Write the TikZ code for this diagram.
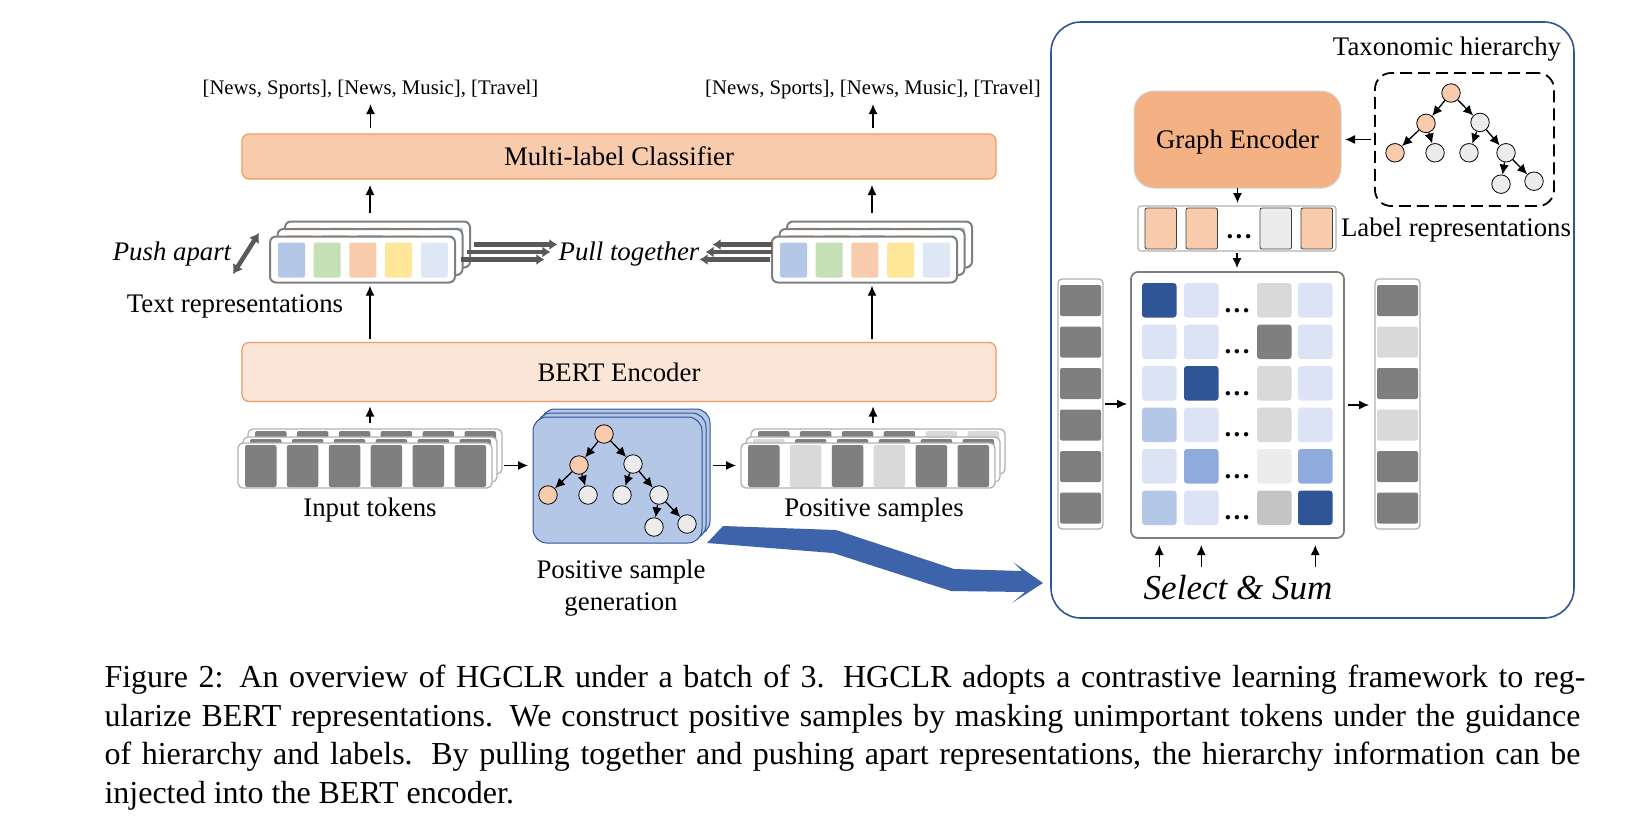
\documentclass[tikz,border=0pt]{standalone}
\usepackage{fontspec}
\setmainfont{Liberation Serif}
\usepackage{tikz}
\usetikzlibrary{arrows.meta, positioning, fit, calc}

\definecolor{cellBlue}{HTML}{B4C7E7}
\definecolor{cellGreen}{HTML}{C5E0B4}
\definecolor{cellPeach}{HTML}{F8CBAD}
\definecolor{cellYellow}{HTML}{FFE699}
\definecolor{cellSky}{HTML}{DEE8F4}
\definecolor{cellCyan}{HTML}{D9FBFB}
\definecolor{cellDark}{HTML}{7F7F7F}
\definecolor{cellLight}{HTML}{D9D9D9}
\definecolor{cellPale}{HTML}{ECECEC}
\definecolor{cellMid}{HTML}{C4C4C4}
\definecolor{matNavy}{HTML}{2F5597}
\definecolor{matBlue}{HTML}{8FAADC}
\definecolor{matPale}{HTML}{DCE3F4}
\definecolor{edgeOrange}{HTML}{F09A5E}
\definecolor{graphFill}{HTML}{F4B183}
\definecolor{bertFill}{HTML}{FBE5D6}
\definecolor{bigBlue}{HTML}{3D63AB}

\newcommand{\wideDots}{\bfseries.\kern2.4pt.\kern2.4pt.}

\begin{document}
\begin{tikzpicture}[
        x=1pt, y=-1pt,
        >=Latex,
        font=\fontsize{26.8}{30}\selectfont,
        % styles
        baseBox/.style={rectangle, anchor=north west, inner sep=0pt, outer sep=0pt},
        % component styles
        stageBox/.style={baseBox, draw=edgeOrange, line width=1.2pt, rounded corners=7pt, minimum width=754pt, align=center},
        repBox/.style={baseBox, draw=cellDark, fill=white, line width=2pt, rounded corners=6pt, minimum width=185pt, minimum height=46pt},
        repCell/.style={baseBox, rounded corners=2pt, minimum width=27pt, minimum height=35pt},
        tokenBox/.style={baseBox, draw=black!30, fill=white, line width=1.3pt, rounded corners=5pt, minimum width=254pt, minimum height=45pt},
        tokenCell/.style={baseBox, rounded corners=2pt, minimum width=31.5pt, minimum height=42pt},
        genBox/.style={baseBox, draw=matNavy, fill=cellBlue, line width=1pt, rounded corners=14pt, minimum width=169pt, minimum height=126pt},
        labelCell/.style={baseBox, draw=black!75, line width=.8pt, rounded corners=2pt, minimum width=31.5pt, minimum height=41pt},
        matCell/.style={baseBox, rounded corners=3pt, minimum width=34.5pt, minimum height=34.5pt},
        vecBox/.style={baseBox, draw=black!30, fill=white, line width=1.3pt, rounded corners=4pt, minimum width=45pt, minimum height=250pt},
        vecCell/.style={baseBox, rounded corners=2pt, minimum width=41pt, minimum height=31pt},
        treeNode/.style={circle, draw=black, line width=.8pt, minimum size=18.5pt, inner sep=0pt},
        % label styles
        textLbl/.style={anchor=base, inner sep=0pt, align=center},
        dotsLbl/.style={anchor=base, inner sep=0pt},
        % connection styles
        conn/.style={->, line width=1.2pt, draw=black, >={Latex[length=10pt, width=9pt]}},
        treeConn/.style={->, line width=1.3pt, draw=black, >={Latex[length=10pt, width=9.5pt]}},
        pullConn/.style={->, line width=4.5pt, draw=black!65, >={Latex[length=8pt, width=11pt]}},
        % the tree in the sample generation and in the taxonomic hierarchy
        treePic/.pic={
            \node [treeNode, fill=cellPeach] (root) at (0,0) {};
            \node [treeNode, fill=cellPeach] (left) at (-25,31) {};
            \node [treeNode, fill=cellPale] (right) at (29,30) {};
            \node [treeNode, fill=cellPeach] (leftA) at (-56,61) {};
            \node [treeNode, fill=cellPale] (leftB) at (-16,61) {};
            \node [treeNode, fill=cellPale] (rightA) at (18,61) {};
            \node [treeNode, fill=cellPale] (rightB) at (55,61) {};
            \node [treeNode, fill=cellPale] (lowA) at (50,93) {};
            \node [treeNode, fill=cellPale] (lowB) at (83,90) {};
            \foreach \treeFrom/\treeTo in {root/left, root/right, left/leftA, left/leftB, right/rightA, right/rightB, rightB/lowA, rightB/lowB}
                \draw [treeConn] (\treeFrom) -- (\treeTo);
        }
    ]

    \useasboundingbox (0,0) rectangle (1637,831);

    % nodes

    % top row: predicted labels
    \node [textLbl, font=\fontsize{20.75}{24}\selectfont] (labelsL) at (370.5,94.5) {[News, Sports], [News, Music], [Travel]};
    \node [textLbl, font=\fontsize{20.75}{24}\selectfont] (labelsR) at (873,94.5) {[News, Sports], [News, Music], [Travel]};

    % encoder and classifier
    \node [stageBox, fill=cellPeach, minimum height=45pt] (classifier) at (242,134) {Multi-label Classifier};
    \node [stageBox, fill=bertFill, minimum height=59pt] (bert) at (242,342.5) {\raisebox{-9pt}[0pt][0pt]{BERT Encoder}};

    % text representations, back layer first
    \foreach \stackX/\stackName in {270/repL, 772/repR} {
        \foreach \layerShift/\layerName/\layerColors in {
                15/c/{cellPeach,cellGreen,cellPeach,cellYellow,cellBlue},
                7.5/b/{cellPeach,cellGreen,cellBlue,cellYellow,cellCyan},
                0/a/{cellBlue,cellGreen,cellPeach,cellYellow,cellSky}} {
            \node [repBox] (\stackName\layerName) at (\stackX+\layerShift, 236.5-\layerShift) {};
            \foreach \cellColor [count=\i from 0] in \layerColors
                \node [repCell, fill=\cellColor] (\stackName\layerName\i) at (\stackX+8+\layerShift+\i*35.7, 242.5-\layerShift) {};
        }
        \node [fit=(\stackName a) (\stackName c), inner sep=0pt] (\stackName Stack) {};
    }

    \node [textLbl, font=\fontsize{26.8}{30}\itshape] (pushLbl) at (172,260) {Push apart};
    \coordinate (pushLow) at (233,274);
    \coordinate (pushHigh) at (259,233);
    \node [textLbl, font=\fontsize{26.8}{30}\itshape] (pullLbl) at (629,260) {Pull together};
    \node [textLbl] (textLbl) at (235,312) {Text representations};

    % input tokens and positive samples, back layer first
    \foreach \stackX/\stackName/\backColors/\midColors/\frontColors in {
            238/tokens/{cellDark,cellDark,cellDark,cellDark,cellDark,cellDark}/{cellDark,cellDark,cellDark,cellDark,cellDark,cellDark}/{cellDark,cellDark,cellDark,cellDark,cellDark,cellDark},
            741/samples/{cellDark,cellDark,cellDark,cellDark,cellLight,cellLight}/{cellLight,cellDark,cellDark,cellDark,cellDark,cellDark}/{cellDark,cellLight,cellDark,cellLight,cellDark,cellDark}} {
        \foreach \layerX/\layerY/\layerName/\layerColors in {10/14/c/\backColors, 5/6/b/\midColors, 0/0/a/\frontColors} {
            \node [tokenBox] (\stackName\layerName) at (\stackX+\layerX, 443-\layerY) {};
            \foreach \cellColor [count=\i from 0, expand list] in \layerColors
                \node [tokenCell, fill=\cellColor] (\stackName\layerName\i) at (\stackX+7+\layerX+\i*41.9, 445-\layerY) {};
        }
        \node [fit=(\stackName a) (\stackName c), inner sep=0pt] (\stackName Stack) {};
    }
    \node [textLbl] (tokensLbl) at (370,516) {Input tokens};
    \node [textLbl] (samplesLbl) at (874,516) {Positive samples};

    % positive sample generation
    \node [genBox] (genC) at (541,409) {};
    \node [genBox] (genB) at (537,413) {};
    \node [genBox] (genA) at (533,417) {};
    \node [fit=(genA) (genC), inner sep=0pt] (genStack) {};
    \pic (genTree) at (604,434) {treePic};
    \node [textLbl, font=\fontsize{26.8}{31.5}\selectfont, anchor=north] (genLbl) at (621,560) {Positive sample\\generation};

    % right panel
    \node [baseBox, draw=matNavy, line width=1.6pt, rounded corners=30pt, minimum width=523pt, minimum height=596pt] (panel) at (1051,22) {};
    \node [textLbl] (taxLbl) at (1447,55) {Taxonomic hierarchy};
    \node [baseBox, draw=black, line width=1.8pt, dash pattern=on 12pt off 6pt, rounded corners=16pt, minimum width=179pt, minimum height=133pt] (taxBox) at (1375,73) {};
    \pic [yscale=.98] (taxTree) at (1451,93) {treePic};
    \node [baseBox, draw=black!18, fill=graphFill, line width=1pt, rounded corners=20pt, minimum width=207pt, minimum height=97pt, align=center] (graph) at (1134,91) {\raisebox{-8.5pt}[0pt][0pt]{Graph Encoder}};

    % label representations
    \node [baseBox, draw=black!30, fill=white, line width=1.2pt, rounded corners=3pt, minimum width=198pt, minimum height=45pt] (labelBox) at (1138,206) {};
    \foreach \cellX/\cellName/\cellColor in {1145/a/cellPeach, 1186/b/cellPeach, 1260/c/cellPale, 1301/d/cellPeach}
        \node [labelCell, fill=\cellColor] (label\cellName) at (\cellX,208) {};
    \node [dotsLbl] (labelDots) at (1239,238) {\wideDots};
    \node [textLbl] (labelLbl) at (1456,236) {Label representations};

    % select and sum matrix
    \node [baseBox, draw=cellDark, fill=white, line width=1.8pt, rounded corners=7pt, minimum width=213pt, minimum height=266pt] (matBox) at (1131,272) {};
    \foreach \colA/\colB/\colC/\colD [count=\r from 0] in {
            matNavy/matPale/cellLight/matPale,
            matPale/matPale/cellDark/matPale,
            matPale/matNavy/cellLight/matPale,
            cellBlue/matPale/cellLight/matPale,
            matPale/matBlue/cellPale/matBlue,
            cellBlue/matPale/cellMid/matNavy} {
        \foreach \cellX/\cellCol/\cellColor in {1142/1/\colA, 1184/2/\colB, 1257/3/\colC, 1298/4/\colD}
            \node [matCell, fill=\cellColor] (mat\r\cellCol) at (\cellX, 283+\r*41.5) {};
        \node [dotsLbl] (matDots\r) at (1237, 312+\r*41.5) {\wideDots};
    }
    \node [textLbl, font=\fontsize{35}{40}\itshape] (selectLbl) at (1238,599) {Select \& Sum};

    % side vectors
    \node [vecBox] (vecL) at (1058,279) {};
    \node [vecBox] (vecR) at (1375,279) {};
    \foreach \cellColor [count=\r from 0] in {cellDark,cellDark,cellDark,cellDark,cellDark,cellDark}
        \node [vecCell, fill=\cellColor] (vecL\r) at (1060, 285+\r*41.5) {};
    \foreach \cellColor [count=\r from 0] in {cellDark,cellLight,cellDark,cellLight,cellDark,cellDark}
        \node [vecCell, fill=\cellColor] (vecR\r) at (1377, 285+\r*41.5) {};

    % caption
    \node [baseBox, font=\fontsize{32}{38.7}\selectfont, text width=1476pt, align=justify] (caption) at (104.5,665) {Figure 2: An overview of HGCLR under a batch of 3. HGCLR adopts a contrastive learning framework to reg-\kern-5pt\linebreak ularize BERT representations. We construct positive samples by masking unimportant tokens under the guidance\linebreak of hierarchy and labels. By pulling together and pushing apart representations, the hierarchy information can be\linebreak injected into the BERT encoder.};

    % connections

    % left and right branch
    \draw [conn, shorten <=6pt, shorten >=5pt] (classifier.north -| labelsL.south) -- (labelsL.south);
    \draw [conn, shorten <=6pt, shorten >=5pt] (classifier.north -| labelsR.south) -- (labelsR.south);
    \draw [conn, shorten <=8pt, shorten >=6pt] (repLStack.north) -- (repLStack.north |- classifier.south);
    \draw [conn, shorten <=8pt, shorten >=6pt] (repRStack.north) -- (repRStack.north |- classifier.south);
    \draw [conn, shorten <=4pt, shorten >=3pt] (bert.north -| repLStack.south) -- (repLStack.south);
    \draw [conn, shorten <=4pt, shorten >=3pt] (bert.north -| repRStack.south) -- (repRStack.south);
    \draw [conn, shorten <=6pt, shorten >=5pt] (tokensStack.north) -- (tokensStack.north |- bert.south);
    \draw [conn, shorten <=6pt, shorten >=5pt] (samplesStack.north) -- (samplesStack.north |- bert.south);

    % sample generation
    \draw [conn, shorten <=2pt, shorten >=5pt] (tokensStack.east |- tokensa.east) -- (tokensa.east -| genA.west);
    \draw [conn, shorten <=3pt, shorten >=5pt] (genStack.east |- samplesa.west) -- (samplesa.west);

    % pull together and push apart
    \draw [pullConn, shorten <=4pt, shorten >=1pt] (repLc.east) -- (repLc.east -| pullLbl.west);
    \draw [pullConn, shorten <=4pt, shorten >=8pt] (repLb.east) -- (repLb.east -| pullLbl.west);
    \draw [pullConn, shorten <=6pt, shorten >=14pt] (repLa.east) -- (repLa.east -| pullLbl.west);
    \draw [pullConn, shorten >=13pt] (repRc.west -| repRa.west) -- (repRc.west -| pullLbl.east);
    \draw [pullConn, shorten >=6pt] (repRb.west -| repRa.west) -- (repRb.west -| pullLbl.east);
    \draw [pullConn, shorten <=2pt] (repRa.west) -- (repRa.west -| pullLbl.east);
    \draw [<->, line width=4.5pt, draw=black!65, >={Latex[length=9pt, width=12pt]}] (pushLow) -- (pushHigh);

    % right panel
    \draw [conn, shorten <=4pt, shorten >=4pt] (taxBox.west) -- (graph.east);
    \draw [conn, shorten >=3pt] (graph.south) -- (labelBox.north -| graph.south);
    \draw [conn, shorten <=2pt, shorten >=4pt] (labelBox.south) -- (matBox.north -| labelBox.south);
    \draw [conn, shorten <=2pt, shorten >=4pt] (vecL.east) -- (vecL.east -| matBox.west);
    \draw [conn, shorten <=4pt, shorten >=6pt] (matBox.east) -- (matBox.east -| vecR.west);
    \draw [conn, shorten <=8pt, shorten >=7pt] (selectLbl.north -| mat51.south) -- (matBox.south -| mat51.south);
    \draw [conn, shorten <=8pt, shorten >=7pt] (selectLbl.north -| mat52.south) -- (matBox.south -| mat52.south);
    \draw [conn, shorten <=8pt, shorten >=7pt] (selectLbl.north -| mat54.south) -- (matBox.south -| mat54.south);

    % big arrow to the panel
    \fill [bigBlue] (723,526) -- (836,530) -- (954,569) -- (1022,571) -- (1013,562) -- (1043,583) -- (1012,603) -- (1025,592) -- (951,591) -- (833,553) -- (707,543) -- cycle;

\end{tikzpicture}
\end{document}
